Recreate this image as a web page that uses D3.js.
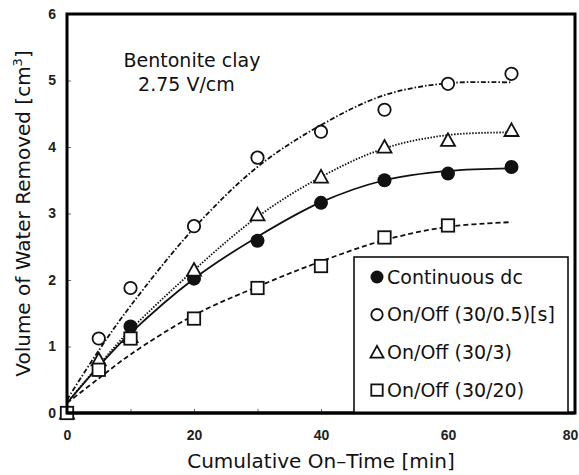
<!DOCTYPE html>
<html>
<head>
<meta charset="utf-8">
<script src="https://cdn.jsdelivr.net/npm/d3@7"></script>
<style>
  body { margin: 0; background: #fff; }
  svg { display: block; }
</style>
</head>
<body>
<div id="chart"></div>
<script>
var w = 579, h = 475;

// measured points (min, cm3)
var timeDc = [0, 10, 20, 30, 40, 50, 60, 70];
var volDc = [0, 1.3, 2.02, 2.59, 3.16, 3.5, 3.6, 3.7];
var timeOn05 = [0, 5, 10, 20, 30, 40, 50, 60, 70];
var volOn05 = [0, 1.12, 1.88, 2.81, 3.84, 4.23, 4.56, 4.95, 5.1];
var timeOn3 = [0, 5, 10, 20, 30, 40, 50, 60, 70];
var volOn3 = [0, 0.8, 1.15, 2.15, 2.98, 3.55, 4.0, 4.1, 4.25];
var timeOn20 = [0, 5, 10, 20, 30, 40, 50, 60];
var volOn20 = [0, 0.65, 1.12, 1.42, 1.88, 2.21, 2.64, 2.82];

// trend curves
var curveTime = [0, 5, 10, 20, 30, 40, 50, 60, 70];
var curveDc = [0.15, 0.7, 1.2, 2.02, 2.65, 3.17, 3.5, 3.64, 3.68];
var curveOn05 = [0.2, 0.94, 1.61, 2.78, 3.7, 4.33, 4.78, 4.96, 4.97];
var curveOn3 = [0.15, 0.72, 1.25, 2.15, 2.95, 3.55, 3.98, 4.18, 4.22];
var curveOn20 = [0.15, 0.52, 0.88, 1.47, 1.9, 2.28, 2.6, 2.8, 2.87];

var xTicks = [0, 20, 40, 60, 80];
var yTicks = [0, 1, 2, 3, 4, 5, 6];
var legendLabels = ["Continuous dc", "On/Off (30/0.5)[s]", "On/Off (30/3)", "On/Off (30/20)"];

var svg = d3.select("#chart").append("svg")
    .attr("width", w).attr("height", h);

var x = d3.scaleLinear().domain([0, 80]).range([67, 575]);
var y = d3.scaleLinear().domain([0, 6]).range([413, 14]);

var series = [
    { name: legendLabels[0], t: timeDc, v: volDc, c: curveDc, shape: "fcircle", dash: null },
    { name: legendLabels[1], t: timeOn05, v: volOn05, c: curveOn05, shape: "circle", dash: "5,2,1.5,2" },
    { name: legendLabels[2], t: timeOn3, v: volOn3, c: curveOn3, shape: "triangle", dash: "1.5,1.5" },
    { name: legendLabels[3], t: timeOn20, v: volOn20, c: curveOn20, shape: "square", dash: "5,3" }
];

// inner tick marks
svg.append("g").attr("transform", "translate(0," + y(0) + ")")
    .call(d3.axisBottom(x).tickValues(d3.range(0, 81, 10)).tickSize(-4).tickFormat(""))
    .call(g => g.select(".domain").remove())
    .selectAll("line").attr("stroke", "#666");
svg.append("g").attr("transform", "translate(" + x(0) + ",0)")
    .call(d3.axisLeft(y).tickValues(yTicks).tickSize(-4).tickFormat(""))
    .call(g => g.select(".domain").remove())
    .selectAll("line").attr("stroke", "#666");

// tick labels
var xAx = svg.append("g").attr("transform", "translate(0," + y(0) + ")")
    .call(d3.axisBottom(x).tickValues(xTicks).tickSize(0).tickPadding(17).tickFormat(d3.format("d")));
xAx.select(".domain").remove();
xAx.selectAll("text").attr("font-family", "Liberation Sans, Arial").attr("font-size", 14).attr("font-weight", "bold").attr("fill", "#222");
// the last label sits against the window edge
xAx.selectAll("text").filter(d => d == 80).attr("dx", -5);

var yAx = svg.append("g").attr("transform", "translate(" + x(0) + ",0)")
    .call(d3.axisLeft(y).tickValues(yTicks).tickSize(0).tickPadding(11).tickFormat(d3.format("d")));
yAx.select(".domain").remove();
yAx.selectAll("text").attr("font-family", "Liberation Sans, Arial").attr("font-size", 14).attr("font-weight", "bold").attr("fill", "#222");

// trend lines
var line = d3.line().curve(d3.curveCatmullRom.alpha(0.5))
    .x((d, i) => x(curveTime[i])).y(d => y(d));

series.forEach(function (s) {
    svg.append("path")
        .attr("d", line(s.c))
        .attr("fill", "none")
        .attr("stroke", "#111")
        .attr("stroke-width", 1.8)
        .attr("stroke-dasharray", s.dash);
});

function drawMarker(g, shape, cx, cy, size) {
    var r = size / 2;
    if (shape == "fcircle") {
        g.append("circle").attr("cx", cx).attr("cy", cy).attr("r", r).attr("fill", "#111");
    } else if (shape == "circle") {
        g.append("circle").attr("cx", cx).attr("cy", cy).attr("r", r - 0.8)
            .attr("fill", "#fff").attr("stroke", "#111").attr("stroke-width", 1.8);
    } else if (shape == "triangle") {
        var hh = r * 1.0;
        g.append("path")
            .attr("d", "M" + cx + "," + (cy - hh) + "L" + (cx + r) + "," + (cy + hh * 0.8) + "L" + (cx - r) + "," + (cy + hh * 0.8) + "Z")
            .attr("fill", "#fff").attr("stroke", "#111").attr("stroke-width", 1.8);
    } else {
        g.append("rect").attr("x", cx - r + 0.8).attr("y", cy - r + 0.8)
            .attr("width", size - 1.6).attr("height", size - 1.6)
            .attr("fill", "#fff").attr("stroke", "#111").attr("stroke-width", 1.8);
    }
}

// markers
var mk = svg.append("g");
[0, 1, 2, 3].forEach(function (k) {
    var s = series[k];
    s.v.forEach(function (v, i) {
        drawMarker(mk, s.shape, x(s.t[i]), y(v), 14);
    });
});

// frame
svg.append("rect")
    .attr("x", x(0)).attr("y", y(6))
    .attr("width", x(80) - x(0)).attr("height", y(0) - y(6))
    .attr("fill", "none").attr("stroke", "#000").attr("stroke-width", 3);

// annotation
svg.append("text").attr("x", x(8.9)).attr("y", y(5.2))
    .attr("font-family", "DejaVu Sans").attr("font-size", 19).attr("fill", "#111")
    .text("Bentonite clay");
svg.append("text").attr("x", x(11.2)).attr("y", y(4.84))
    .attr("font-family", "DejaVu Sans").attr("font-size", 19).attr("fill", "#111")
    .text("2.75 V/cm");

// legend
var lg = svg.append("g");
lg.append("rect").attr("x", 354).attr("y", 257).attr("width", 214).attr("height", y(0) - 257)
    .attr("fill", "#fff").attr("stroke", "#000").attr("stroke-width", 1.5);
series.forEach(function (s, i) {
    var ly = 277 + i * 37.7;
    drawMarker(lg, s.shape, 377, ly, 13);
    lg.append("text").attr("x", 387).attr("y", ly + 6.5)
        .attr("font-family", "DejaVu Sans").attr("font-size", 19).attr("fill", "#111")
        .text(s.name);
});
// thick bottom axis line again over the legend box
svg.append("line").attr("x1", x(0)).attr("x2", x(80)).attr("y1", y(0)).attr("y2", y(0))
    .attr("stroke", "#000").attr("stroke-width", 3);

// axis titles
svg.append("text").attr("x", x(40)).attr("y", 468)
    .attr("text-anchor", "middle").attr("font-family", "DejaVu Sans").attr("font-size", 20).attr("fill", "#111")
    .text("Cumulative On\u2013Time [min]");

var yt = svg.append("text").attr("transform", "translate(30," + y(3) + ") rotate(-90)")
    .attr("text-anchor", "middle").attr("font-family", "DejaVu Sans").attr("font-size", 20).attr("fill", "#111");
yt.append("tspan").text("Volume of Water Removed [cm");
yt.append("tspan").attr("font-size", 13).attr("dy", -8).text("3");
yt.append("tspan").attr("dy", 8).text("]");
</script>
</body>
</html>
